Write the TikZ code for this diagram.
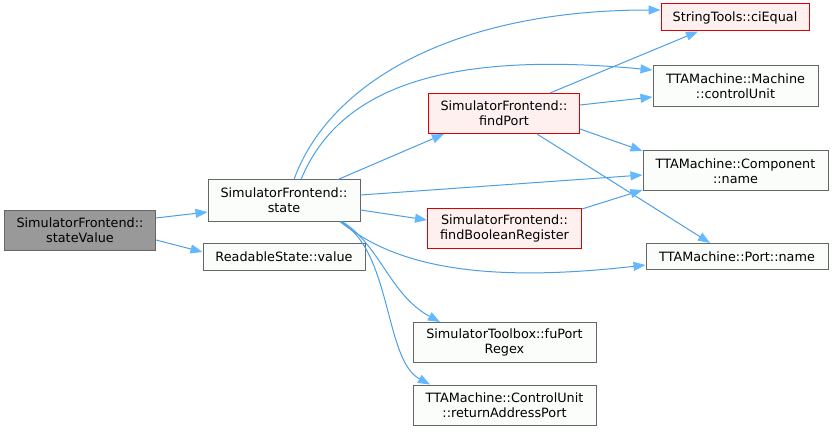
\documentclass[tikz,border=0pt]{standalone}
\usepackage{fontspec}
\setmainfont{DejaVu Sans}
\usetikzlibrary{arrows.meta}
\definecolor{edgeblue}{HTML}{4C9FE6}
\definecolor{tipblue}{HTML}{63B8FF}
\definecolor{fnborder}{HTML}{666666}
\definecolor{fnfill}{HTML}{FBFDFB}
\definecolor{redborder}{HTML}{DD0000}
\definecolor{redfill}{HTML}{FFF0F0}
\definecolor{rootfill}{HTML}{999999}

\begin{document}
\begin{tikzpicture}[x=1pt,y=-1pt,
    fn/.style={draw=fnborder,fill=fnfill,line width=1pt,inner sep=0pt,
      align=center,font=\fontsize{12.8}{15}\selectfont},
    redfn/.style={fn,draw=redborder,fill=redfill},
    rootfn/.style={fn,fill=rootfill},
    call/.style={draw=edgeblue,line width=1pt,
      -{Triangle[length=12pt,width=9pt,color=tipblue]}}]
  \useasboundingbox (0,0) rectangle (833,433);
  \node[rootfn,minimum width=151pt,minimum height=40pt] (sv) at (80,230) {SimulatorFrontend::\\stateValue};
  \node[fn,minimum width=152pt,minimum height=41pt] (st) at (284,200.5) {SimulatorFrontend::\\state};
  \node[fn,minimum width=162pt,minimum height=27pt] (rv) at (284,257) {ReadableState::value};
  \node[redfn,minimum width=151pt,minimum height=40pt] (fp) at (504,113.5) {SimulatorFrontend::\\findPort};
  \node[redfn,minimum width=154pt,minimum height=40pt] (fbr) at (504.5,228.5) {SimulatorFrontend::\\findBooleanRegister};
  \node[redfn,minimum width=148pt,minimum height=27pt] (ci) at (735,17.5) {StringTools::ciEqual};
  \node[fn,minimum width=165pt,minimum height=41pt] (cu) at (735.5,86) {TTAMachine::Machine\\::controlUnit};
  \node[fn,minimum width=185pt,minimum height=40pt] (cn) at (735.5,171) {TTAMachine::Component\\::name};
  \node[fn,minimum width=182pt,minimum height=26pt] (pn) at (737,256.5) {TTAMachine::Port::name};
  \node[fn,minimum width=183pt,minimum height=40pt] (fr) at (504.5,342.5) {SimulatorToolbox::fuPort\\Regex};
  \node[fn,minimum width=183pt,minimum height=40pt] (ra) at (504.5,405) {TTAMachine::ControlUnit\\::returnAddressPort};
  % calls from the root
  \draw[call] ([yshift=12pt]sv.east) -- ([yshift=-11.5pt]st.west);
  \draw[call] ([yshift=-10pt]sv.east) -- ([yshift=5pt]rv.west);
  % calls from state
  \draw[call] ([xshift=10pt]st.north) .. controls (328,85) and (450,10) .. ([yshift=7.5pt]ci.west);
  \draw[call] ([xshift=17pt]st.north) .. controls (338,90) and (440,50) .. ([yshift=16pt]cu.west);
  \draw[call] ([xshift=54pt]st.north) -- ([xshift=-60pt]fp.south);
  \draw[call] ([yshift=5.5pt]st.east) -- ([yshift=-4pt]cn.west);
  \draw[call] ([yshift=-9.5pt]st.east) -- ([yshift=8.5pt]fbr.west);
  \draw[call] ([xshift=56pt]st.south) .. controls (390,262) and (470,285) .. ([yshift=-8.5pt]pn.west);
  \draw[call] ([xshift=58pt]st.south) .. controls (380,245) and (390,295) .. ([xshift=-64.5pt]fr.north);
  \draw[call] ([xshift=56pt]st.south) .. controls (392,250) and (384,360) .. ([xshift=-74.5pt]ra.north);
  % calls from findPort
  \draw[call] ([xshift=46pt]fp.north) -- ([xshift=-37pt]ci.south);
  \draw[call] ([yshift=8.5pt]fp.east) -- ([yshift=-11pt]cu.west);
  \draw[call] ([yshift=-15.5pt]fp.east) -- ([yshift=20pt]cn.west);
  \draw[call] ([xshift=33pt]fp.south) -- ([xshift=-27pt]pn.north);
  % calls from findBooleanRegister
  \draw[call] ([yshift=19.5pt]fbr.east) -- ([yshift=-19pt]cn.west);
\end{tikzpicture}
\end{document}
